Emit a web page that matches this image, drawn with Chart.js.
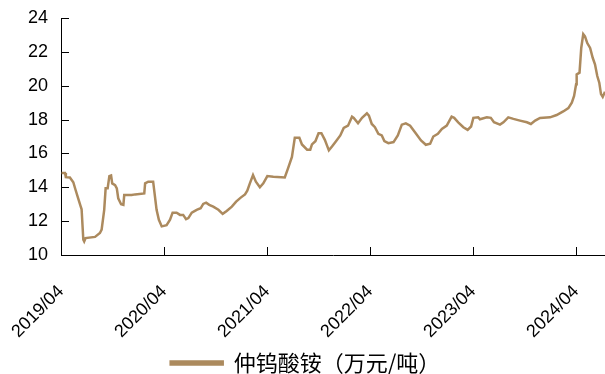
<!DOCTYPE html>
<html>
<head>
<meta charset="utf-8">
<script src="https://cdn.jsdelivr.net/npm/chart.js@4"></script>
<style>
  html, body { margin: 0; padding: 0; background: #fff; }
  #wrap { width: 605px; height: 374px; position: relative; }
</style>
</head>
<body>
<div id="wrap"><canvas id="c"></canvas></div>
<script>
// 仲钨酸铵 price, 万元/吨
const dates = [
  "2019-04-03","2019-04-15","2019-04-18","2019-05-02","2019-05-14","2019-05-22","2019-06-01","2019-06-10",
  "2019-06-13","2019-06-19","2019-06-22","2019-06-27","2019-07-30","2019-08-17","2019-08-23","2019-09-02",
  "2019-09-07","2019-09-14","2019-09-20","2019-09-26","2019-09-30","2019-10-10","2019-10-16","2019-10-21",
  "2019-10-31","2019-11-09","2019-11-12","2019-12-08","2019-12-20","2020-01-22","2020-01-25","2020-02-06",
  "2020-02-23","2020-02-28","2020-03-05","2020-03-13","2020-03-23","2020-04-10","2020-04-22","2020-05-01",
  "2020-05-15","2020-05-27","2020-06-08","2020-06-18","2020-06-26","2020-07-08","2020-07-25","2020-08-09",
  "2020-08-18","2020-08-28","2020-09-09","2020-09-23","2020-10-11","2020-10-26","2020-11-10","2020-11-28",
  "2020-12-13","2020-12-29","2021-01-14","2021-01-22","2021-02-01","2021-02-12","2021-02-22","2021-03-06",
  "2021-03-18","2021-04-02","2021-04-23","2021-06-03","2021-06-14","2021-06-28","2021-07-08","2021-07-24",
  "2021-08-03","2021-08-21","2021-09-02","2021-09-08","2021-09-20","2021-10-01","2021-10-11","2021-10-23",
  "2021-11-07","2021-11-18","2021-12-02","2021-12-17","2021-12-29","2022-01-14","2022-01-28","2022-02-04",
  "2022-02-19","2022-03-03","2022-03-20","2022-03-27","2022-04-07","2022-04-18","2022-04-30","2022-05-12",
  "2022-05-21","2022-06-05","2022-06-23","2022-07-08","2022-07-22","2022-08-06","2022-08-21","2022-09-08",
  "2022-09-29","2022-10-16","2022-10-31","2022-11-12","2022-11-28","2022-12-12","2022-12-29","2023-01-16",
  "2023-01-25","2023-02-09","2023-02-27","2023-03-12","2023-03-24","2023-04-02","2023-04-19","2023-04-25",
  "2023-05-19","2023-06-03","2023-06-14","2023-07-05","2023-07-17","2023-08-04","2023-08-22","2023-09-15",
  "2023-10-09","2023-10-23","2023-11-08","2023-11-25","2023-12-30","2024-01-23","2024-02-16","2024-03-04",
  "2024-03-16","2024-03-24","2024-04-01","2024-04-03","2024-04-13","2024-04-19","2024-04-26","2024-05-02",
  "2024-05-10","2024-05-20","2024-05-29","2024-06-07","2024-06-15","2024-06-22","2024-06-28","2024-07-04",
  "2024-07-12"
];
const prices = [
  14.85,14.85,14.6,14.58,14.3,13.84,13.35,12.86,
  12.7,10.9,10.8,11.0,11.07,11.3,11.5,12.67,
  13.94,13.94,14.66,14.7,14.23,14.13,13.94,13.35,
  13.0,12.96,13.54,13.54,13.58,13.64,14.23,14.33,
  14.33,13.64,12.67,12.08,11.69,11.76,12.08,12.5,
  12.5,12.37,12.37,12.12,12.18,12.5,12.67,12.76,
  13.02,13.09,12.96,12.86,12.67,12.43,12.6,12.86,
  13.15,13.39,13.58,13.8,14.23,14.72,14.33,14.0,
  14.23,14.66,14.62,14.58,15.1,15.79,16.92,16.92,
  16.53,16.22,16.22,16.53,16.72,17.19,17.19,16.8,
  16.18,16.41,16.72,17.06,17.51,17.64,18.17,18.1,
  17.78,18.1,18.37,18.23,17.74,17.55,17.16,17.06,
  16.73,16.61,16.67,17.06,17.7,17.78,17.64,17.25,
  16.77,16.51,16.57,17.0,17.16,17.45,17.64,18.17,
  18.1,17.84,17.55,17.39,17.59,18.1,18.13,18.02,
  18.13,18.1,17.84,17.7,17.84,18.13,18.04,17.94,
  17.84,17.74,17.94,18.1,18.13,18.27,18.48,18.68,
  19.0,19.4,20.09,20.67,20.77,22.23,23.05,22.92,
  22.52,22.23,21.65,21.26,20.57,20.18,19.5,19.34,
  19.65
];
const yTicks = [10, 12, 14, 16, 18, 20, 22, 24];
const seriesName = "仲钨酸铵（万元/吨）";

// months elapsed since 2019/04
function monthOffset(s) {
  const [y, m, d] = s.split("-").map(Number);
  return (y - 2019) * 12 + (m - 4) + (d - 1) / 30;
}
const points = dates.map((d, i) => ({ x: monthOffset(d), y: prices[i] }));
const xMax = points[points.length - 1].x;

const lineColor = "#AC8A5E";

// ticks point into the plot area
const innerTicks = {
  id: "innerTicks",
  afterDraw(chart) {
    const { ctx, chartArea: a } = chart;
    const len = 8;
    ctx.save();
    ctx.strokeStyle = "#000";
    ctx.lineWidth = 1;
    ctx.beginPath();
    const xs = chart.scales.x;
    xs.ticks.forEach((t, i) => {
      const px = Math.round(xs.getPixelForTick(i)) + 0.5;
      ctx.moveTo(px, a.bottom);
      ctx.lineTo(px, a.bottom - len);
    });
    const ys = chart.scales.y;
    ys.ticks.forEach((t, i) => {
      const py = Math.round(ys.getPixelForTick(i)) + 0.5;
      ctx.moveTo(a.left, py);
      ctx.lineTo(a.left + len, py);
    });
    ctx.stroke();
    ctx.restore();
  },
};

new Chart(document.getElementById("c"), {
  type: "line",
  data: {
    datasets: [{
      label: seriesName,
      data: points,
      borderColor: lineColor,
      backgroundColor: lineColor,
      borderWidth: 2.5,
      pointRadius: 0,
      tension: 0,
    }],
  },
  options: {
    responsive: true,
    maintainAspectRatio: false,
    animation: false,
    layout: { padding: { top: 18, right: 0, left: 6, bottom: -10 } },
    plugins: {
      tooltip: { enabled: false },
      legend: {
        position: "bottom",
        labels: {
          color: "#000",
          boxWidth: 52,
          boxHeight: 3,
          padding: 2,
          font: { family: "'Noto Sans CJK SC'", size: 22 },
        },
      },
    },
    scales: {
      x: {
        type: "linear",
        min: 0,
        max: xMax,
        afterFit: (s) => {
          s.height = 95;
          s.paddingLeft = 0;
          s.paddingRight = 0;
        },
        border: { display: true, color: "#000", width: 1 },
        grid: { display: false, drawTicks: false },
        ticks: {
          stepSize: 12,
          includeBounds: false,
          autoSkip: false,
          maxRotation: 45,
          minRotation: 45,
          padding: 26,
          color: "#000",
          font: { family: "'Liberation Sans', Arial", size: 18 },
          callback: (v) => (v % 12 === 0 ? `${2019 + v / 12}/04` : null),
        },
      },
      y: {
        min: 10,
        max: 24,
        afterFit: (s) => {
          s.width = 55;
          s.paddingTop = 0;
          s.paddingBottom = 0;
        },
        afterBuildTicks: (s) => { s.ticks = yTicks.map((v) => ({ value: v })); },
        border: { display: true, color: "#000", width: 1 },
        grid: { display: false, drawTicks: false },
        ticks: {
          padding: 13,
          color: "#000",
          font: { family: "'Liberation Sans', Arial", size: 18 },
        },
      },
    },
  },
  plugins: [innerTicks],
});
</script>
</body>
</html>
